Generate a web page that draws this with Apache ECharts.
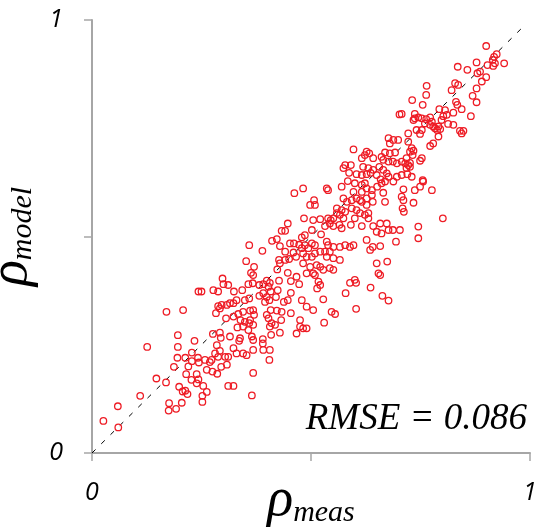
<!DOCTYPE html>
<html>
<head>
<meta charset="utf-8">
<script src="https://cdn.jsdelivr.net/npm/echarts@6/dist/echarts.min.js"></script>
<style>
  html, body { margin: 0; padding: 0; background: #fff; }
  #chartWrap { width: 534px; height: 528px; }
</style>
</head>
<body>
<div id="chartWrap"></div>
<script>
const measVals = [
  0.243,0.170,0.208,0.196,0.234,0.126,0.196,0.228,0.195,0.213,
  0.187,0.220,0.228,0.242,0.244,0.215,0.227,0.147,0.169,0.199,
  0.207,0.213,0.218,0.110,0.176,0.205,0.192,0.175,0.059,0.026,
  0.060,0.262,0.275,0.286,0.295,0.239,0.243,0.239,0.254,0.262,
  0.252,0.252,0.311,0.323,0.368,0.365,0.308,0.447,0.433,0.441,
  0.411,0.422,0.359,0.389,0.452,0.461,0.429,0.473,0.460,0.441,
  0.450,0.441,0.427,0.429,0.466,0.352,0.370,0.423,0.447,0.363,
  0.368,0.454,0.473,0.467,0.399,0.406,0.391,0.403,0.382,0.367,
  0.357,0.343,0.324,0.311,0.300,0.298,0.277,0.288,0.250,0.296,
  0.308,0.315,0.288,0.292,0.323,0.330,0.349,0.359,0.382,0.391,
  0.399,0.408,0.405,0.395,0.420,0.424,0.427,0.438,0.447,0.454,
  0.422,0.433,0.408,0.361,0.368,0.345,0.334,0.283,0.306,0.323,
  0.339,0.349,0.361,0.399,0.403,0.410,0.418,0.406,0.370,0.432,
  0.454,0.475,0.368,0.359,0.345,0.332,0.276,0.292,0.315,0.294,
  0.357,0.365,0.338,0.336,0.368,0.390,0.390,0.409,0.429,0.285,
  0.292,0.281,0.288,0.323,0.330,0.304,0.311,0.345,0.353,0.368,
  0.391,0.406,0.405,0.258,0.269,0.273,0.517,0.521,0.514,0.479,
  0.490,0.505,0.547,0.555,0.528,0.579,0.589,0.603,0.603,0.475,
  0.482,0.490,0.467,0.530,0.677,0.688,0.699,0.680,0.597,0.627,
  0.633,0.623,0.669,0.680,0.692,0.616,0.642,0.661,0.665,0.677,
  0.687,0.696,0.578,0.591,0.574,0.587,0.619,0.631,0.642,0.656,
  0.665,0.673,0.677,0.604,0.616,0.627,0.636,0.650,0.659,0.669,
  0.584,0.600,0.616,0.623,0.696,0.688,
  0.482,0.536,0.539,0.570,
  0.597,0.616,0.627,0.639,0.651,0.661,0.639,0.627,0.641,0.665,
  0.669,0.507,0.498,0.509,0.574,0.582,0.593,0.604,0.612,0.616,
  0.627,0.559,0.570,0.578,0.559,0.566,0.593,0.604,0.612,0.623,
  0.631,0.551,0.539,0.545,0.484,0.505,0.521,0.574,0.600,0.631,
  0.532,0.543,0.551,0.565,0.570,0.591,0.502,0.486,0.479,0.523,
  0.616,0.642,0.658,0.673,0.650,0.661,0.677,0.687,0.627,0.694,
  0.502,0.509,0.486,0.494,0.479,0.536,0.539,0.551,0.566,0.578,
  0.589,0.597,0.521,0.532,0.543,0.641,0.658,0.635,0.482,0.490,
  0.502,0.509,0.566,0.536,0.551,0.650,0.674,0.482,0.498,0.513,
  0.521,0.528,0.543,0.551,0.490,0.505,0.509,0.654,0.658,0.600,
  0.711,0.737,0.749,0.756,0.776,0.707,0.711,0.734,0.709,0.712,
  0.801,0.745,0.745,0.703,0.636,0.663,0.677,0.900,0.924,0.918,
  0.915,0.920,0.916,0.941,0.903,0.878,0.835,0.857,0.886,0.880,
  0.900,0.890,0.829,0.836,0.764,0.821,0.878,0.763,0.869,0.731,
  0.755,0.831,0.834,0.878,0.844,0.793,0.806,0.810,0.802,0.825,
  0.865,0.737,0.707,0.737,0.745,0.734,0.753,0.763,0.772,0.760,
  0.772,0.776,0.779,0.783,0.791,0.795,0.788,0.813,0.825,0.798,
  0.741,0.722,0.749,0.753,0.791,0.840,0.848,0.844,0.722,0.772,
  0.779,0.730,0.734,0.726,0.732,0.718,0.753,0.749,0.707,0.715,
  0.722,0.726,0.718,0.726,0.707,0.720,0.730,0.755,0.702,0.462
];
const modelVals = [
  0.373,0.326,0.330,0.272,0.259,0.245,0.245,0.232,0.220,0.220,
  0.199,0.200,0.212,0.220,0.209,0.182,0.169,0.172,0.163,0.153,
  0.142,0.144,0.136,0.132,0.115,0.116,0.102,0.098,0.108,0.074,
  0.059,0.192,0.188,0.183,0.199,0.182,0.170,0.161,0.155,0.141,
  0.132,0.118,0.155,0.155,0.185,0.133,0.204,0.530,0.513,0.513,
  0.490,0.494,0.480,0.467,0.484,0.484,0.478,0.481,0.463,0.465,
  0.448,0.446,0.446,0.438,0.453,0.443,0.430,0.424,0.416,0.416,
  0.411,0.397,0.390,0.407,0.398,0.393,0.390,0.384,0.388,0.392,
  0.390,0.376,0.373,0.388,0.390,0.403,0.376,0.373,0.373,0.342,
  0.342,0.346,0.339,0.334,0.346,0.353,0.353,0.357,0.363,0.369,
  0.360,0.373,0.353,0.349,0.360,0.376,0.398,0.349,0.353,0.370,
  0.329,0.326,0.330,0.329,0.330,0.326,0.321,0.323,0.311,0.315,
  0.307,0.303,0.307,0.319,0.311,0.300,0.296,0.292,0.319,0.307,
  0.323,0.307,0.296,0.300,0.292,0.290,0.275,0.278,0.269,0.266,
  0.284,0.269,0.265,0.259,0.261,0.263,0.253,0.273,0.278,0.249,
  0.236,0.230,0.222,0.242,0.230,0.222,0.222,0.230,0.226,0.238,
  0.238,0.238,0.215,0.215,0.210,0.215,0.396,0.388,0.380,0.353,
  0.338,0.330,0.326,0.321,0.355,0.369,0.393,0.393,0.333,0.292,
  0.288,0.288,0.276,0.301,0.727,0.723,0.723,0.715,0.701,0.696,
  0.692,0.688,0.694,0.692,0.694,0.681,0.681,0.684,0.677,0.673,
  0.673,0.669,0.665,0.665,0.658,0.647,0.661,0.658,0.654,0.661,
  0.654,0.646,0.638,0.644,0.642,0.644,0.647,0.642,0.632,0.627,
  0.628,0.623,0.619,0.623,0.638,0.627,
  0.611,0.611,0.607,0.615,
  0.603,0.603,0.611,0.607,0.615,0.623,0.596,0.588,0.580,0.601,
  0.580,0.584,0.573,0.573,0.588,0.580,0.584,0.588,0.584,0.580,
  0.573,0.565,0.561,0.557,0.554,0.550,0.565,0.561,0.554,0.550,
  0.554,0.542,0.542,0.538,0.542,0.538,0.540,0.542,0.542,0.542,
  0.524,0.530,0.524,0.527,0.519,0.527,0.515,0.503,0.498,0.505,
  0.524,0.524,0.530,0.530,0.511,0.507,0.515,0.515,0.492,0.488,
  0.484,0.480,0.480,0.473,0.473,0.488,0.480,0.476,0.476,0.480,
  0.476,0.480,0.465,0.465,0.465,0.476,0.478,0.469,0.461,0.453,
  0.453,0.461,0.446,0.453,0.450,0.438,0.442,0.438,0.430,0.434,
  0.430,0.423,0.427,0.423,0.415,0.415,0.411,0.415,0.411,0.400,
  0.609,0.607,0.615,0.627,0.607,0.592,0.584,0.578,0.565,0.557,
  0.542,0.523,0.496,0.515,0.382,0.363,0.352,0.940,0.921,0.915,
  0.908,0.900,0.894,0.900,0.896,0.902,0.892,0.885,0.881,0.877,
  0.868,0.858,0.854,0.850,0.848,0.838,0.842,0.827,0.825,0.815,
  0.804,0.811,0.804,0.810,0.794,0.794,0.792,0.781,0.778,0.786,
  0.778,0.783,0.783,0.773,0.775,0.769,0.773,0.771,0.775,0.761,
  0.758,0.765,0.754,0.750,0.754,0.748,0.746,0.760,0.758,0.769,
  0.746,0.738,0.737,0.746,0.731,0.744,0.744,0.738,0.719,0.709,
  0.715,0.704,0.698,0.696,0.688,0.681,0.681,0.675,0.673,0.669,
  0.665,0.661,0.658,0.670,0.642,0.644,0.638,0.630,0.782,0.600
];
// 1:1 reference line
const lineX = [0, 0.985];
const lineY = [0, 0.985];
// axis ticks
const tickVals = [0, 0.5, 1];
const tickLabels = ['0', '', '1'];
const rmseText = 'RMSE = 0.086';

let myChart = echarts.init(document.getElementById('chartWrap'));

const points = measVals.map(function (v, i) { return [v, modelVals[i]]; });
const diag = lineX.map(function (v, i) { return [v, lineY[i]]; });

function tickLabel(v) {
    const idx = tickVals.indexOf(v);
    return idx >= 0 ? tickLabels[idx] : '';
}

const axisColor = '#a6a6a6';
const labelFont = {
    fontFamily: 'Open Sans',
    fontStyle: 'italic',
    fontSize: 25,
    color: '#000'
};
const nameRich = {
    r: {fontFamily: 'Liberation Serif', fontStyle: 'italic', fontSize: 54, lineHeight: 54, verticalAlign: 'bottom', color: '#000'},
    s: {fontFamily: 'Liberation Serif', fontStyle: 'italic', fontSize: 30, lineHeight: 30, verticalAlign: 'bottom', color: '#000'}
};

myChart.setOption({
    animation: false,
    backgroundColor: '#fff',
    grid: {left: 92, right: 4, top: 20, bottom: 75, containLabel: false, outerBoundsMode: 'none'},
    xAxis: {
        type: 'value',
        min: 0,
        max: 1,
        interval: 0.5,
        splitLine: {show: false},
        axisLine: {lineStyle: {color: axisColor, width: 2}},
        axisTick: {length: 8, lineStyle: {color: axisColor, width: 1.5}},
        axisLabel: Object.assign({margin: 27, formatter: tickLabel}, labelFont),
        name: '{r|ρ}{s|meas}',
        nameLocation: 'middle',
        nameGap: 21,
        nameMoveOverlap: false,
        nameTextStyle: {rich: nameRich}
    },
    yAxis: {
        type: 'value',
        min: 0,
        max: 1,
        interval: 0.5,
        splitLine: {show: false},
        axisLine: {lineStyle: {color: axisColor, width: 2}},
        axisTick: {length: 8, lineStyle: {color: axisColor, width: 1.5}},
        axisLabel: Object.assign({margin: 29, formatter: tickLabel}, labelFont),
        name: '{r|ρ}{s|model}',
        nameLocation: 'middle',
        nameRotate: 90,
        nameGap: 37,
        nameTextStyle: {rich: nameRich}
    },
    graphic: [{
        type: 'text',
        right: 7,
        top: 401,
        z: 100,
        style: {
            text: rmseText,
            font: 'italic 37px "Liberation Serif"',
            fill: '#000'
        }
    }],
    series: [
        {
            type: 'line',
            data: diag,
            symbol: 'none',
            silent: true,
            lineStyle: {color: '#000', width: 1, type: [5, 8]},
            z: 1
        },
        {
            type: 'scatter',
            data: points,
            symbol: 'circle',
            symbolSize: 6.5,
            itemStyle: {color: 'rgba(0,0,0,0)', borderColor: '#ee1c25', borderWidth: 1.3, opacity: 1},
            z: 2
        }
    ]
});
</script>
</body>
</html>
